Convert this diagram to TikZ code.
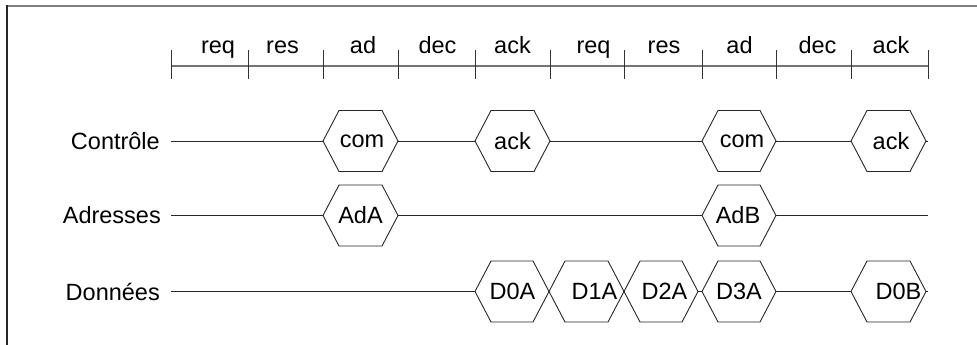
\documentclass[tikz,border=0pt]{standalone}
\usepackage{fontspec}
\setmainfont{Liberation Sans}
\begin{document}
\begin{tikzpicture}[x=1pt,y=-1pt,
  every node/.style={font=\fontsize{23.5}{28}\selectfont, inner sep=0pt, text=black},
  sig/.style={line width=0.9pt, draw=black!85},
  tickln/.style={line width=1pt, draw=black!80},
  axis/.style={line width=2pt, draw=black!55},
  rowlabel/.style={anchor=east},
  phase/.style={anchor=base}]
\useasboundingbox (0,0) rectangle (977,345);
% frame (clipped at right and bottom)
\draw[line width=2.2pt, draw=black!50] (6,6) -- (977,6);
\draw[line width=1.5pt, draw=black!85] (7,5) -- (7,345);
% timeline
\draw[axis] (171,66) -- (928,66);
\foreach \x in {171,248,323,398,475,550,624,702,776,851,928}
  \draw[tickln] (\x,50) -- (\x,79);
\foreach \x/\t/\n in {218/req/p1,282.5/res/p2,363/ad/p3,437.5/dec/p4,512.5/ack/p5,593.5/req/p6,664/res/p7,739.5/ad/p8,817.5/dec/p9,891/ack/p10}
  \node[phase] (\n) at (\x,53) {\t};
% row labels
\node[rowlabel] (lc) at (160,141) {Contrôle};
\node[rowlabel] (la) at (161,215.5) {Adresses};
\node[rowlabel] (ld) at (160,291.5) {Données};
% hexagon macro
\newcommand{\hexa}[5]{% L, R, y, text x, text
  \draw[sig] (#1,#3) -- ({#1+16},{#3-30.5}) -- ({#2-16},{#3-30.5}) -- (#2,#3) -- ({#2-16},{#3+30.5}) -- ({#1+16},{#3+30.5}) -- cycle;
  \node at (#4,#3) {#5};}
% Controle row
\foreach \a/\b in {171/323,398/475,550/702,776/851,926/928}
  \draw[sig] (\a,141) -- (\b,141);
\hexa{323}{398}{141}{362}{com}
\hexa{475}{550}{141}{512.5}{ack}
\hexa{702}{776}{141}{742}{com}
\hexa{851}{926}{141}{891}{ack}
% Adresses row
\foreach \a/\b in {171/323,398/702,776/928}
  \draw[sig] (\a,215.5) -- (\b,215.5);
\hexa{323}{398}{215.5}{360.5}{AdA}
\hexa{702}{776}{215.5}{738}{AdB}
% Donnees row
\foreach \a/\b in {171/475,698/702,776/851,926/928}
  \draw[sig] (\a,291.5) -- (\b,291.5);
\hexa{475}{549}{291.5}{512.5}{D0A}
\hexa{549}{624}{291.5}{594.5}{D1A}
\hexa{624}{698}{291.5}{664.5}{D2A}
\hexa{702}{776}{291.5}{739}{D3A}
\hexa{851}{926}{291.5}{898.5}{D0B}
\end{tikzpicture}
\end{document}
